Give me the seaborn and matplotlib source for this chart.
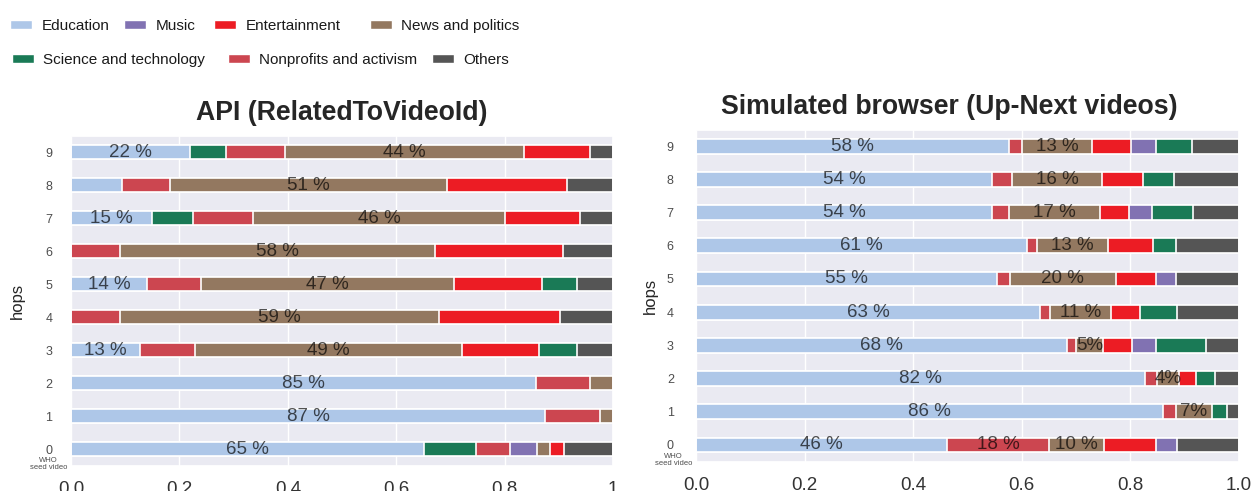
import matplotlib
matplotlib.use("Agg")
import matplotlib.pyplot as plt
from matplotlib.patches import Patch
import pandas as pd
import seaborn as sns

# categories and colours
cat_names = {
    "edu": "Education",
    "mus": "Music",
    "ent": "Entertainment",
    "news": "News and politics",
    "sci": "Science and technology",
    "npo": "Nonprofits and activism",
    "oth": "Others",
}
cat_colors = {
    "Education": "#aec7e8",
    "Music": "#8172b2",
    "Entertainment": "#ec1c24",
    "News and politics": "#937860",
    "Science and technology": "#1a7a56",
    "Nonprofits and activism": "#cc4650",
    "Others": "#555555",
}

hops = ["9", "8", "7", "6", "5", "4", "3", "2", "1", "0"]

# API (RelatedToVideoId) - segment order and shares per hop (top to bottom)
api_cats = [
    ["edu", "sci", "npo", "news", "ent", "oth"],
    ["edu", "npo", "news", "ent", "oth"],
    ["edu", "sci", "npo", "news", "ent", "oth"],
    ["npo", "news", "ent", "oth"],
    ["edu", "npo", "news", "ent", "sci", "oth"],
    ["npo", "news", "ent", "oth"],
    ["edu", "npo", "news", "ent", "sci", "oth"],
    ["edu", "npo", "news"],
    ["edu", "npo", "news"],
    ["edu", "sci", "npo", "mus", "news", "ent", "oth"],
]
api_vals = [
    [0.22, 0.065, 0.11, 0.44, 0.123, 0.042],
    [0.094, 0.089, 0.51, 0.222, 0.085],
    [0.15, 0.075, 0.11, 0.466, 0.138, 0.061],
    [0.09, 0.582, 0.236, 0.092],
    [0.14, 0.10, 0.467, 0.161, 0.066, 0.066],
    [0.09, 0.589, 0.223, 0.098],
    [0.128, 0.10, 0.493, 0.142, 0.07, 0.067],
    [0.857, 0.10, 0.043],
    [0.875, 0.10, 0.025],
    [0.652, 0.096, 0.062, 0.049, 0.024, 0.026, 0.091],
]
api_labels = [
    ["22 %", "", "", "44 %", "", ""],
    ["", "", "51 %", "", ""],
    ["15 %", "", "", "46 %", "", ""],
    ["", "58 %", "", ""],
    ["14 %", "", "47 %", "", "", ""],
    ["", "59 %", "", ""],
    ["13 %", "", "49 %", "", "", ""],
    ["85 %", "", ""],
    ["87 %", "", ""],
    ["65 %", "", "", "", "", "", ""],
]

# Simulated browser (Up-Next videos)
web_cats = [
    ["edu", "npo", "news", "ent", "mus", "sci", "oth"],
    ["edu", "npo", "news", "ent", "sci", "oth"],
    ["edu", "npo", "news", "ent", "mus", "sci", "oth"],
    ["edu", "npo", "news", "ent", "sci", "oth"],
    ["edu", "npo", "news", "ent", "mus", "oth"],
    ["edu", "npo", "news", "ent", "sci", "oth"],
    ["edu", "npo", "news", "ent", "mus", "sci", "oth"],
    ["edu", "npo", "news", "ent", "sci", "oth"],
    ["edu", "npo", "news", "sci", "oth"],
    ["edu", "npo", "news", "ent", "mus", "oth"],
]
web_vals = [
    [0.576, 0.024, 0.129, 0.072, 0.046, 0.066, 0.087],
    [0.545, 0.037, 0.166, 0.075, 0.057, 0.12],
    [0.545, 0.031, 0.168, 0.053, 0.043, 0.075, 0.085],
    [0.609, 0.019, 0.131, 0.083, 0.042, 0.116],
    [0.554, 0.024, 0.195, 0.074, 0.037, 0.116],
    [0.633, 0.019, 0.112, 0.054, 0.068, 0.114],
    [0.683, 0.017, 0.049, 0.054, 0.044, 0.092, 0.061],
    [0.826, 0.022, 0.042, 0.03, 0.036, 0.044],
    [0.86, 0.024, 0.066, 0.028, 0.022],
    [0.462, 0.188, 0.101, 0.096, 0.039, 0.114],
]
web_labels = [
    ["58 %", "", "13 %", "", "", "", ""],
    ["54 %", "", "16 %", "", "", ""],
    ["54 %", "", "17 %", "", "", "", ""],
    ["61 %", "", "13 %", "", "", ""],
    ["55 %", "", "20 %", "", "", ""],
    ["63 %", "", "11 %", "", "", ""],
    ["68 %", "", "5%", "", "", "", ""],
    ["82 %", "", "4%", "", "", ""],
    ["86 %", "", "7%", "", ""],
    ["46 %", "18 %", "10 %", "", "", ""],
]


def to_frame(cats, vals, labels):
    rows = []
    for hop, cs, vs, ls in zip(hops, cats, vals, labels):
        left = 0.0
        for k, (c, v, lab) in enumerate(zip(cs, vs, ls)):
            rows.append(dict(hop=hop, pos=k, category=cat_names[c],
                             start=left, end=left + v, label=lab))
            left += v
    return pd.DataFrame(rows)


def draw_panel(ax, df, title, xticklabels, title_x, ypad):
    # stacked bars: draw cumulative ends from outermost layer inward
    for k in sorted(df["pos"].unique(), reverse=True):
        sub = df[df["pos"] == k]
        sns.barplot(data=sub, x="end", y="hop", hue="category",
                    order=hops, hue_order=list(cat_colors), palette=cat_colors,
                    dodge=False, orient="h", width=0.45, errorbar=None,
                    saturation=1, legend=False, edgecolor="white",
                    linewidth=1.2, ax=ax)
    for _, r in df[df["label"] != ""].iterrows():
        ax.text((r["start"] + r["end"]) / 2, hops.index(r["hop"]), r["label"],
                ha="center", va="center", fontsize=13.5, color="black",
                alpha=0.68, family=["Liberation Sans", "DejaVu Sans"])
    ax.set_xlim(0, 1)
    ax.set_ylim(len(hops) - 0.5, -0.5)
    ax.set_xticks([0, 0.2, 0.4, 0.6, 0.8, 1.0])
    ax.set_xticklabels(xticklabels)
    ax.tick_params(axis="x", labelsize=13.5, pad=5, colors=".2")
    ax.tick_params(axis="y", labelsize=9, pad=ypad, colors=".3")
    ax.set_xlabel("")
    ax.set_ylabel("hops", fontsize=12, color=".15")
    ax.annotate("WHO\nseed video", xy=(0, hops.index("0")), xycoords="data",
                xytext=(-16, -6), textcoords="offset points",
                ha="center", va="top", fontsize=5.5, color=".3",
                linespacing=0.9)
    ax.set_title(title, fontsize=19.2, fontweight="bold", pad=11, x=title_x)


sns.set_theme(style="darkgrid")
plt.rcParams["font.family"] = ["Liberation Sans", "DejaVu Sans"]

fig = plt.figure(figsize=(12.53, 4.91), dpi=100)
ax1 = fig.add_axes([0.0567, 0.0519, 0.4326, 0.6721])
ax2 = fig.add_axes([0.5555, 0.0599, 0.4334, 0.6762])

draw_panel(ax1, to_frame(api_cats, api_vals, api_labels),
           "API (RelatedToVideoId)", ["0.0", "0.2", "0.4", "0.6", "0.8", "1"],
           0.5, 7.5)
draw_panel(ax2, to_frame(web_cats, web_vals, web_labels),
           "Simulated browser (Up-Next videos)",
           ["0.0", "0.2", "0.4", "0.6", "0.8", "1.0"], 0.467, 10)
ax1.yaxis.set_label_coords(-0.086, 0.5)
ax2.yaxis.set_label_coords(-0.07, 0.5)

# legend entries, laid out in two rows like the original
leg_font = {"family": ["Liberation Sans", "DejaVu Sans"], "size": 11}
legend_items = [
    ("Education", 10, 0.947), ("Music", 124, 0.947),
    ("Entertainment", 214, 0.947), ("News and politics", 370, 0.947),
    ("Science and technology", 12, 0.878),
    ("Nonprofits and activism", 228, 0.878), ("Others", 432, 0.878),
]
for name, xpix, y in legend_items:
    lg = fig.legend(handles=[Patch(facecolor=cat_colors[name], label=name)],
                    loc="center left", bbox_to_anchor=(xpix / 1253, y),
                    frameon=False, prop=leg_font, handlelength=1.45,
                    handleheight=0.5, handletextpad=0.6,
                    borderpad=0, borderaxespad=0)
    for t in lg.get_texts():
        t.set_color(".1")

fig.savefig("out.png", dpi=100)
